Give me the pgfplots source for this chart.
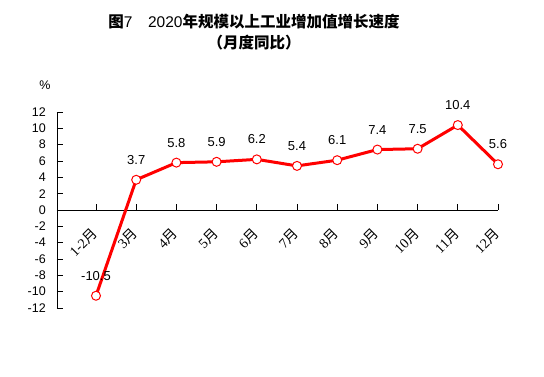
\documentclass[border=0pt]{standalone}
\usepackage{pgfplots}
\pgfplotsset{compat=1.18}
\usepackage{fontspec}
\setmainfont{Liberation Sans}
\newfontfamily\cjk{Noto Sans CJK SC}
\newfontfamily\serifdig{Liberation Serif}
\usetikzlibrary{calc}
\begin{document}
\begin{tikzpicture}[x=1pt,y=1pt]
\begin{axis}[name=ax, at={(0,0)}, anchor=south west,
  scale only axis, width=441pt, height=196pt,
  xmin=-0.97, xmax=10, ymin=-12, ymax=12,
  axis x line=middle, axis y line=left,
  x axis line style={-}, y axis line style={-},
  axis line style={black, line width=0.8pt},
  hide obscured x ticks=false, hide obscured y ticks=false,
  xtick={0,...,10},
  xticklabels={{\serifdig 1-2}{\cjk 月},{\serifdig 3}{\cjk 月},{\serifdig 4}{\cjk 月},{\serifdig 5}{\cjk 月},{\serifdig 6}{\cjk 月},{\serifdig 7}{\cjk 月},{\serifdig 8}{\cjk 月},{\serifdig 9}{\cjk 月},{\serifdig 10}{\cjk 月},{\serifdig 11}{\cjk 月},{\serifdig 12}{\cjk 月}},
  ytick={-12,-10,...,12},
  tick align=inside, major tick length=6pt,
  tick style={black, line width=0.8pt},
  /pgf/number format/assume math mode=true,
  yticklabel style={font=\fontsize{12.5}{14}\selectfont, anchor=east, inner sep=0pt, xshift=-11pt},
  xticklabel style={font=\fontsize{14}{16}\selectfont, yshift=-21pt, xshift=-1pt, rotate=45, anchor=east, inner sep=0pt},
  clip=false,
  nodes near coords={\pgfmathprintnumber[fixed,fixed zerofill,precision=1,assume math mode=true]{\pgfplotspointmeta}},
  every node near coord/.append style={font=\fontsize{13}{15}\selectfont, black, anchor=center, yshift=20pt},
]
\addplot[red, line width=3pt, mark=*, mark size=4.5pt,
  mark options={fill=white, draw=red, line width=1pt}]
  coordinates {(0,-10.5) (1,3.7) (2,5.8) (3,5.9) (4,6.2) (5,5.4) (6,6.1) (7,7.4) (8,7.5) (9,10.4) (10,5.6)};
\end{axis}
\node[font=\fontsize{15.5}{18}\selectfont] at ($(ax.south west)+(197,286)$) {{\cjk\bfseries 图}7\quad 2020{\cjk\bfseries 年规模以上工业增加值增长速度}};
\node[font=\fontsize{15.5}{18}\selectfont] at ($(ax.south west)+(197,265)$) {\cjk\bfseries （月度同比）};
\node[font=\fontsize{12.5}{14}\selectfont] at ($(ax.south west)+(-12,223)$) {\%};
\path[use as bounding box] ($(ax.south west)+(-57,-69)$) rectangle ($(ax.south west)+(487,308)$);
\end{tikzpicture}
\end{document}
